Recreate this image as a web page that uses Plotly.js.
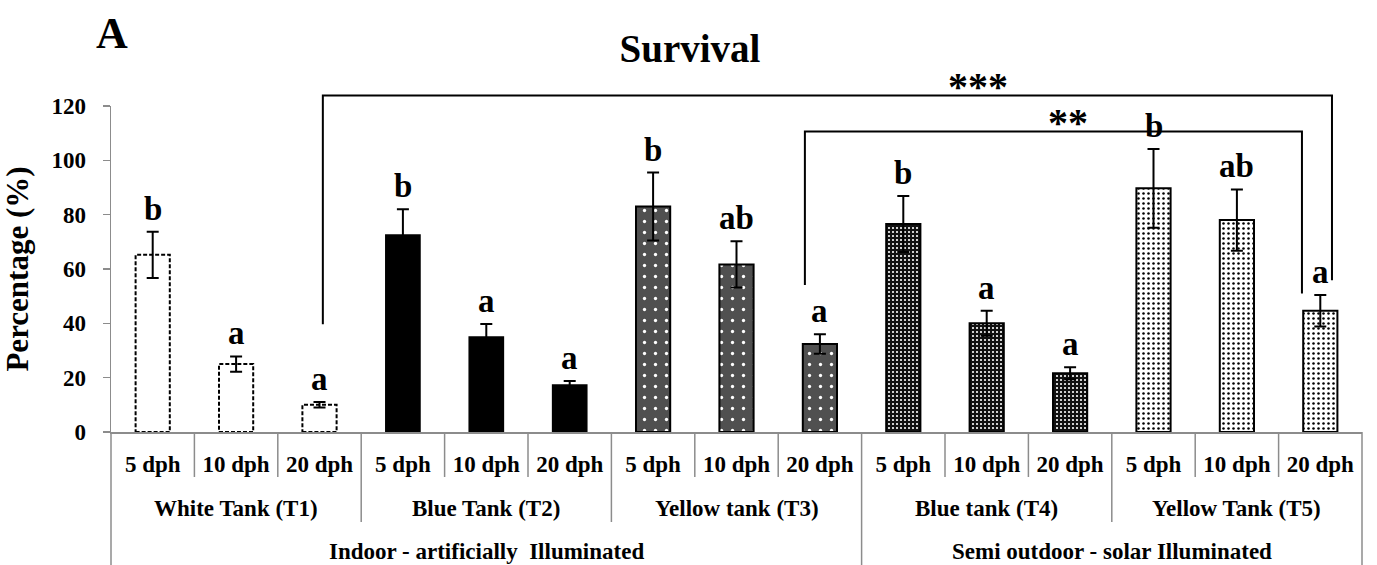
<!DOCTYPE html>
<html>
<head>
<meta charset="utf-8">
<script src="https://cdn.plot.ly/plotly-3.0.1.min.js"></script>
<style>html,body{margin:0;padding:0;background:#fff;}#chart{width:1377px;height:565px;}</style>
</head>
<body>
<div id="chart"></div>
<script>
// ---- data ----
const timepoints = ['5 dph', '10 dph', '20 dph'];
const tanks = ['White Tank (T1)', 'Blue Tank (T2)', 'Yellow tank (T3)', 'Blue tank (T4)', 'Yellow Tank (T5)'];
const settings = ['Indoor - artificially  Illuminated', 'Semi outdoor - solar Illuminated'];
const settingTanks = [[0, 1, 2], [3, 4]];

const survivalT1 = [65.2, 25.0, 10.0];
const survivalT2 = [72.5, 35.0, 17.3];
const survivalT3 = [83.0, 61.7, 32.4];
const survivalT4 = [76.6, 40.0, 21.6];
const survivalT5 = [89.7, 78.0, 44.6];

const errorT1 = [8.5, 2.8, 1.0];
const errorT2 = [9.5, 4.8, 1.5];
const errorT3 = [12.5, 8.5, 3.6];
const errorT4 = [10.3, 4.6, 2.2];
const errorT5 = [14.5, 11.3, 5.8];

const lettersT1 = ['b', 'a', 'a'];
const lettersT2 = ['b', 'a', 'a'];
const lettersT3 = ['b', 'ab', 'a'];
const lettersT4 = ['b', 'a', 'a'];
const lettersT5 = ['b', 'ab', 'a'];

const comparisonLabels = ['***', '**'];

// ---- style / layout config ----
const survival = [survivalT1, survivalT2, survivalT3, survivalT4, survivalT5];
const errors = [errorT1, errorT2, errorT3, errorT4, errorT5];
const letters = [lettersT1, lettersT2, lettersT3, lettersT4, lettersT5];

const FONT = '"Liberation Serif", "Times New Roman", "DejaVu Serif", serif';
const GRID = '#8c8c8c';
const BARW = 0.41;
const PLOT_H = 326; // px height of plot area (for paper conversions)
const YMAX = 120;

const markers = [
  {color: '#ffffff', line: {width: 0}},
  {color: '#000000', line: {color: '#000', width: 1.5}},
  {color: '#555555', line: {color: '#000', width: 2},
   pattern: {shape: '.', fgcolor: '#ffffff', bgcolor: '#505050', size: 11, solidity: 0.07, fillmode: 'replace'}},
  {color: '#222222', line: {color: '#000', width: 2},
   pattern: {shape: '.', fgcolor: '#ffffff', bgcolor: '#111111', size: 4, solidity: 0.22, fillmode: 'replace'}},
  {color: '#ffffff', line: {color: '#000', width: 2},
   pattern: {shape: '.', fgcolor: '#000000', bgcolor: '#ffffff', size: 5, solidity: 0.2, fillmode: 'replace'}}
];

const traces = tanks.map((name, t) => ({
  type: 'bar',
  name: name,
  x: timepoints.map((_, i) => t * 3 + i),
  y: survival[t],
  width: BARW,
  marker: markers[t],
  error_y: {type: 'data', array: errors[t], visible: true, color: '#000', thickness: 2, width: 6},
  hoverinfo: 'skip',
  showlegend: false
}));

const shapes = [];
const annotations = [];
const toPaper = v => v / YMAX;
const pxPaper = px => px / PLOT_H;

// dashed outline of white tank bars
survivalT1.forEach((v, i) => {
  shapes.push({type: 'rect', xref: 'x', yref: 'y', x0: i - BARW / 2, x1: i + BARW / 2, y0: 0, y1: v,
    line: {color: '#000', width: 2, dash: '4px,2px'}, layer: 'above'});
});

// significance letters
tanks.forEach((_, t) => {
  letters[t].forEach((L, i) => {
    annotations.push({x: t * 3 + i, y: survival[t][i] + errors[t][i], xref: 'x', yref: 'y',
      text: L, showarrow: false, yanchor: 'bottom', yshift: 3,
      font: {family: FONT, size: 33, color: '#000', weight: 'bold'}});
  });
});

// category table lines below axis
const nCat = tanks.length * timepoints.length;
for (let k = 0; k < nCat - 1; k++) {
  const b = k + 1;
  let depth = 45;
  if (b % 3 === 0) depth = 90;
  if (b === settingTanks[0].length * 3) depth = 133;
  shapes.push({type: 'line', xref: 'x', yref: 'paper', x0: k + 0.5, x1: k + 0.5, y0: 0, y1: -pxPaper(depth),
    line: {color: GRID, width: 1.5}});
}
[0, 1].forEach(px => shapes.push({type: 'line', xref: 'paper', yref: 'paper', x0: px, x1: px, y0: 0, y1: -pxPaper(133),
  line: {color: GRID, width: 1.5}}));

// tank labels
tanks.forEach((name, t) => annotations.push({x: t * 3 + 1, y: -pxPaper(76), xref: 'x', yref: 'paper', text: name,
  showarrow: false, yanchor: 'middle', font: {family: FONT, size: 23, color: '#000', weight: 'bold'}}));
// setting labels
settings.forEach((name, s) => {
  const idx = settingTanks[s];
  const c = (idx[0] * 3 + idx[idx.length - 1] * 3 + 2) / 2;
  annotations.push({x: c, y: -pxPaper(119), xref: 'x', yref: 'paper', text: name, showarrow: false,
    yanchor: 'middle', font: {family: FONT, size: 23, color: '#000', weight: 'bold'}});
});

// significance brackets
const brackets = [
  {x0: 2.04, x1: 14.14, yLeft: 39.7, yRight: 55.9, yTop: 123.9, labelX: 9.9, labelY: 127.0},
  {x0: 7.82, x1: 13.78, yLeft: 54.1, yRight: 51.0, yTop: 110.6, labelX: 10.97, labelY: 114.0}
];
brackets.forEach((b, i) => {
  shapes.push({type: 'path', xref: 'x', yref: 'paper',
    path: `M${b.x0},${toPaper(b.yLeft)} L${b.x0},${toPaper(b.yTop)} L${b.x1},${toPaper(b.yTop)} L${b.x1},${toPaper(b.yRight)}`,
    line: {color: '#000', width: 2}});
  annotations.push({x: b.labelX, y: toPaper(b.labelY), xref: 'x', yref: 'paper', text: comparisonLabels[i],
    showarrow: false, yanchor: 'middle', font: {family: FONT, size: 40, color: '#000', weight: 'bold'}});
});

// panel letter
annotations.push({x: 0.001, y: 1.222, xref: 'paper', yref: 'paper', text: 'A', showarrow: false,
  xanchor: 'center', yanchor: 'middle', font: {family: FONT, size: 44, color: '#000', weight: 'bold'}});

const layout = {
  width: 1377, height: 565,
  margin: {l: 111, r: 15, t: 106, b: 133},
  paper_bgcolor: '#fff', plot_bgcolor: '#fff',
  barmode: 'overlay',
  font: {family: FONT},
  title: {text: 'Survival', x: 690 / 1377, xref: 'container', xanchor: 'center', y: 1 - 48 / 565, yref: 'container', yanchor: 'middle',
    font: {family: FONT, size: 39, color: '#000', weight: 'bold'}},
  xaxis: {
    range: [-0.5, nCat - 0.5], tickmode: 'array',
    tickvals: Array.from({length: nCat}, (_, i) => i),
    ticktext: Array.from({length: nCat}, (_, i) => timepoints[i % 3]),
    showline: true, linecolor: GRID, linewidth: 1.5, ticks: '', showgrid: false, zeroline: false,
    ticklabelstandoff: 11, tickangle: 0,
    tickfont: {family: FONT, size: 23, color: '#000', weight: 'bold'}
  },
  yaxis: {
    range: [0, YMAX], dtick: 20, tick0: 0, showline: true, linecolor: GRID, linewidth: 1.5,
    ticks: 'outside', ticklen: 7, tickcolor: GRID, tickwidth: 1.5, showgrid: false, zeroline: false,
    ticklabelstandoff: 12,
    tickfont: {family: FONT, size: 23, color: '#000', weight: 'bold'},
    title: {text: 'Percentage (%)', standoff: 14, font: {family: FONT, size: 31, color: '#000', weight: 'bold'}}
  },
  shapes: shapes,
  annotations: annotations
};

Plotly.newPlot('chart', traces, layout, {displayModeBar: false, staticPlot: true});
</script>
</body>
</html>
